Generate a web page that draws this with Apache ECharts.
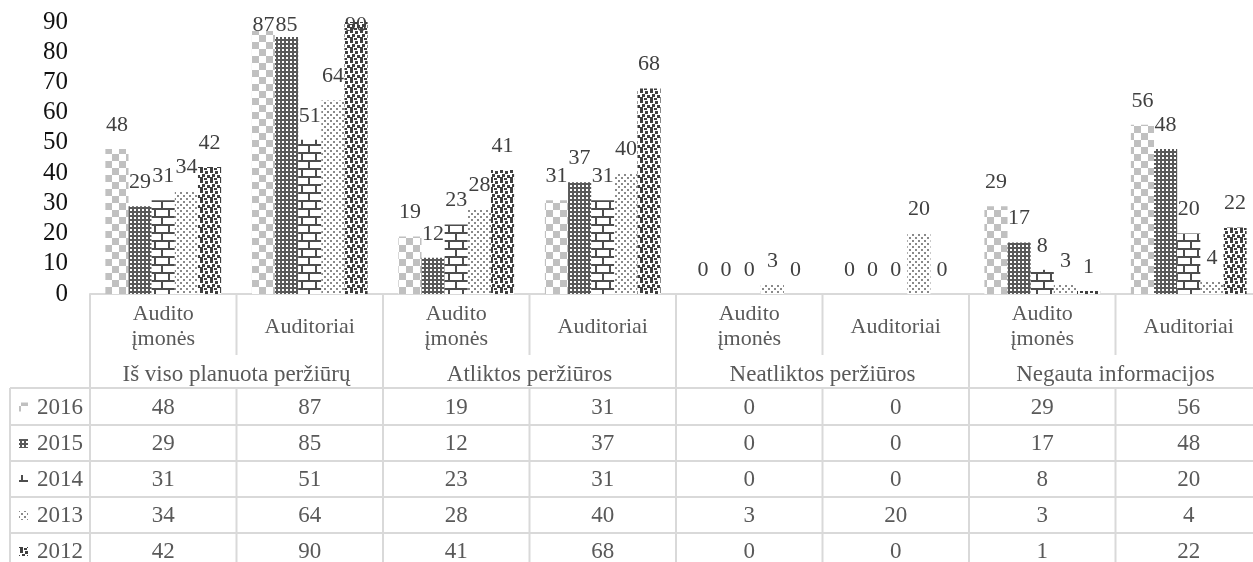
<!DOCTYPE html>
<html>
<head>
<meta charset="utf-8">
<script src="https://cdn.jsdelivr.net/npm/echarts@6/dist/echarts.min.js"></script>
<style>
  html, body { margin: 0; padding: 0; background: #fff; }
  #chart { width: 1253px; height: 562px; }
</style>
</head>
<body>
<div id="chart"></div>
<script>
// 数据
const subCats   = ['Audito\nįmonės', 'Auditoriai', 'Audito\nįmonės', 'Auditoriai', 'Audito\nįmonės', 'Auditoriai', 'Audito\nįmonės', 'Auditoriai'];
const groups    = ['Iš viso planuota peržiūrų', 'Atliktos peržiūros', 'Neatliktos peržiūros', 'Negauta informacijos'];
const years     = ['2016', '2015', '2014', '2013', '2012'];
const v2016     = [48, 87, 19, 31, 0, 0, 29, 56];
const v2015     = [29, 85, 12, 37, 0, 0, 17, 48];
const v2014     = [31, 51, 23, 31, 0, 0, 8, 20];
const v2013     = [34, 64, 28, 40, 3, 20, 3, 4];
const v2012     = [42, 90, 41, 68, 0, 0, 1, 22];
const yTicks    = [0, 10, 20, 30, 40, 50, 60, 70, 80, 90];
const seriesVals = [v2016, v2015, v2014, v2013, v2012];

const FONT = "'Liberation Serif', 'Times New Roman', serif";

// 图案填充
function pattern(w, h, draw) {
    let c = document.createElement('canvas');
    c.width = w; c.height = h;
    let ctx = c.getContext('2d');
    ctx.fillStyle = '#fff';
    ctx.fillRect(0, 0, w, h);
    draw(ctx);
    return c;
}
const patterns = [
    // 2016 棋盘
    pattern(14, 14, ctx => {
        ctx.fillStyle = '#c0c0c0';
        ctx.fillRect(0, 0, 7, 7);
        ctx.fillRect(7, 7, 7, 7);
    }),
    // 2015 细网格
    pattern(4, 4, ctx => {
        ctx.fillStyle = '#595959';
        ctx.fillRect(0, 0, 4, 4);
        ctx.fillStyle = '#fff';
        ctx.fillRect(2, 1, 2, 2);
    }),
    // 2014 砖块
    pattern(14, 16, ctx => {
        ctx.fillStyle = '#4d4d4d';
        ctx.fillRect(0, 0, 14, 2);
        ctx.fillRect(0, 8, 14, 2);
        ctx.fillRect(0, 0, 2, 8);
        ctx.fillRect(7, 8, 2, 8);
    }),
    // 2013 稀疏点
    pattern(6, 6, ctx => {
        ctx.fillStyle = '#8a8a8a';
        ctx.fillRect(0, 0, 2, 2);
        ctx.fillRect(3, 3, 2, 2);
    }),
    // 2012 大点
    pattern(10, 10, ctx => {
        ctx.fillStyle = '#3f3f3f';
        [[0,0],[5,1],[2,4],[7,5],[0,7],[4,8]].forEach(p => ctx.fillRect(p[0], p[1], 3, 3));
    })
];

let chart = echarts.init(document.getElementById('chart'));

const gridLeft = 90, gridTop = 22, gridW = 1172, gridH = 272;
const yMax = yTicks[yTicks.length - 1];
const labelDist = 13, labelH = 24, labelMinTop = 12;

// 顶部标签下压，避免超出画布
function barItem(v) {
    let barTop = gridTop + gridH * (1 - v / yMax);
    let room = barTop - labelDist - labelH;
    return room < labelMinTop ? { value: v, label: { offset: [0, labelMinTop - room] } } : v;
}

let option = {
    animation: false,
    grid: { left: gridLeft, top: gridTop, width: gridW, height: gridH, outerBoundsMode: 'none' },
    xAxis: [{
        type: 'category',
        data: subCats,
        axisLine: { lineStyle: { color: '#d9d9d9', width: 2 } },
        axisTick: { show: false },
        axisLabel: {
            interval: 0, margin: 33, verticalAlign: 'middle',
            fontFamily: FONT, fontSize: 22, lineHeight: 25, color: '#595959'
        }
    }, {
        type: 'category',
        data: groups,
        position: 'bottom',
        axisLine: { show: false },
        axisTick: { show: false },
        axisLabel: {
            interval: 0, margin: 81, verticalAlign: 'middle',
            fontFamily: FONT, fontSize: 23, color: '#595959'
        }
    }],
    yAxis: {
        type: 'value',
        min: yTicks[0], max: yMax, interval: 10,
        axisLine: { show: false },
        axisTick: { show: false },
        splitLine: { show: false },
        axisLabel: { margin: 22, fontFamily: FONT, fontSize: 25, color: '#111' }
    },
    series: seriesVals.map((vals, s) => ({
        name: years[s],
        type: 'bar',
        xAxisIndex: 0,
        data: vals.map(barItem),
        barGap: 0,
        barCategoryGap: '21%',
        itemStyle: { color: { image: patterns[s], repeat: 'repeat' } },
        label: {
            show: true, position: 'top', distance: labelDist,
            fontFamily: FONT, fontSize: 22, color: '#404040'
        }
    }))
};
chart.setOption(option);

// 数据表
{
    let band    = gridW / subCats.length;
    let right   = gridLeft + gridW;
    let rowLines = [388, 425, 461, 497, 533, 569];
    let line = (x1, y1, x2, y2) => ({
        type: 'line', silent: true,
        shape: { x1, y1, x2, y2 },
        style: { stroke: '#d9d9d9', lineWidth: 2 }
    });
    let els = [];
    rowLines.forEach(y => els.push(line(10, y, right, y)));
    els.push(line(10, 388, 10, 570));
    els.push(line(gridLeft, 294, gridLeft, 570));
    for (let k = 1; k <= subCats.length; k++) {
        let x = gridLeft + k * band;
        if (k % 2 == 0) {
            els.push(line(x, 294, x, 570));
        } else {
            els.push(line(x, 294, x, 355));
            els.push(line(x, 388, x, 570));
        }
    }
    seriesVals.forEach((vals, s) => {
        let cy = (rowLines[s] + rowLines[s + 1]) / 2 + 1;
        els.push({
            type: 'rect', silent: true,
            shape: { x: 19, y: cy - 5, width: 9, height: 9 },
            style: { fill: { image: patterns[s], repeat: 'repeat' } }
        });
        els.push({
            type: 'text', silent: true,
            style: { text: years[s], x: 83, y: cy, align: 'right', verticalAlign: 'middle',
                     font: "23px " + FONT, fill: '#595959' }
        });
        vals.forEach((v, i) => {
            let cx = chart.convertToPixel({ xAxisIndex: 0 }, i);
            els.push({
                type: 'text', silent: true,
                style: { text: String(v), x: cx, y: cy, align: 'center', verticalAlign: 'middle',
                         font: "23px " + FONT, fill: '#595959' }
            });
        });
    });
    chart.setOption({ graphic: els });
}
</script>
</body>
</html>
